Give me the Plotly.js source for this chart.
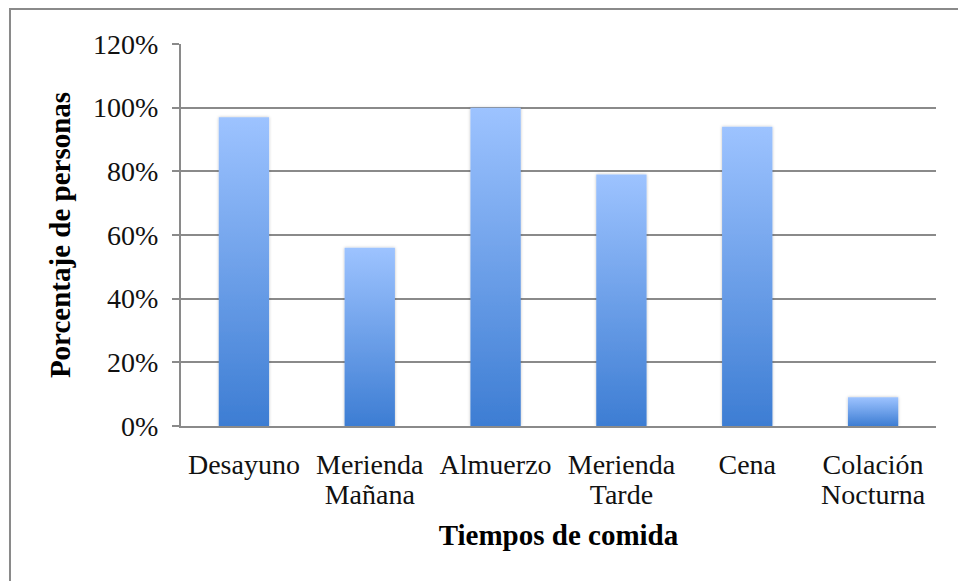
<!DOCTYPE html>
<html><head><meta charset="utf-8">
<script src="https://cdn.plot.ly/plotly-3.0.1.min.js"></script>
<style>html,body{margin:0;padding:0;background:#fff;} #chart{width:958px;height:581px;}</style>
</head><body><div id="chart"></div>
<script>
const categories = ['Desayuno', 'Merienda<br>Mañana', 'Almuerzo', 'Merienda<br>Tarde', 'Cena', 'Colación<br>Nocturna'];
const values = [0.97, 0.56, 1.00, 0.79, 0.94, 0.09];
const tickValues = [0, 0.2, 0.4, 0.6, 0.8, 1.0, 1.2];
const tickLabels = ['0%', '20%', '40%', '60%', '80%', '100%', '120%'];
const xTitle = 'Tiempos de comida';
const yTitle = 'Porcentaje de personas';

const gray = '#8a8a8a';
const fontFam = '"Liberation Serif", "Times New Roman", serif';

const trace = {
  type: 'bar', x: categories, y: values,
  marker: {color: '#6a9ee8', line: {width: 0}},
  hoverinfo: 'none'
};

const layout = {
  width: 958, height: 581,
  margin: {l: 181, r: 22, t: 44, b: 155},
  paper_bgcolor: '#ffffff', plot_bgcolor: '#ffffff',
  showlegend: false, bargap: 0.6,
  font: {family: fontFam, size: 28, color: '#111'},
  xaxis: {
    type: 'category', showline: true, linecolor: gray, linewidth: 2,
    showgrid: false, ticks: '', ticklabelstandoff: 12,
    tickfont: {family: fontFam, size: 28, color: '#111'},
    title: {text: '<b>' + xTitle + '</b>', font: {family: fontFam, size: 29, color: '#000'}, standoff: 10},
    automargin: false, fixedrange: true
  },
  yaxis: {
    range: [0, 1.2], tickvals: tickValues, ticktext: tickLabels,
    showline: true, linecolor: gray, linewidth: 2,
    showgrid: true, gridcolor: gray, gridwidth: 2, zeroline: false,
    ticks: 'outside', ticklen: 7, tickwidth: 2, tickcolor: gray,
    ticklabelstandoff: 8,
    tickfont: {family: fontFam, size: 28, color: '#111'},
    title: {text: '<b>' + yTitle + '</b>', font: {family: fontFam, size: 29, color: '#000'}, standoff: 14},
    automargin: false, fixedrange: true
  },
  shapes: [{
    type: 'rect', xref: 'paper', yref: 'paper',
    x0: -0.2265, x1: 1.2, y0: -0.6, y1: 1.0916,
    line: {color: gray, width: 2}, fillcolor: 'rgba(0,0,0,0)', layer: 'below'
  }]
};

Plotly.newPlot('chart', [trace], layout, {displayModeBar: false, staticPlot: true}).then(function (gd) {
  const svg = gd.querySelector('.main-svg');
  const ns = 'http://www.w3.org/2000/svg';
  const defs = document.createElementNS(ns, 'defs');
  defs.innerHTML =
    '<linearGradient id="barGrad" x1="0" y1="0" x2="0" y2="1">' +
    '<stop offset="0" stop-color="#9dc3ff"/>' +
    '<stop offset="1" stop-color="#3d7dd3"/>' +
    '</linearGradient>' +
    '<filter id="barShadow" x="-20%" y="-20%" width="140%" height="140%">' +
    '<feDropShadow dx="0" dy="0" stdDeviation="1.5" flood-color="#000" flood-opacity="0.25"/>' +
    '</filter>';
  svg.insertBefore(defs, svg.firstChild);
  gd.querySelectorAll('.barlayer .point path').forEach(function (p) {
    p.style.fill = 'url(#barGrad)';
    p.setAttribute('filter', 'url(#barShadow)');
  });
  gd.querySelectorAll('.xtick text').forEach(function (txt) {
    txt.querySelectorAll('tspan.line').forEach(function (t, i) {
      t.setAttribute('dy', (i * 1.07).toFixed(2) + 'em');
    });
  });
});
</script>
</body></html>
